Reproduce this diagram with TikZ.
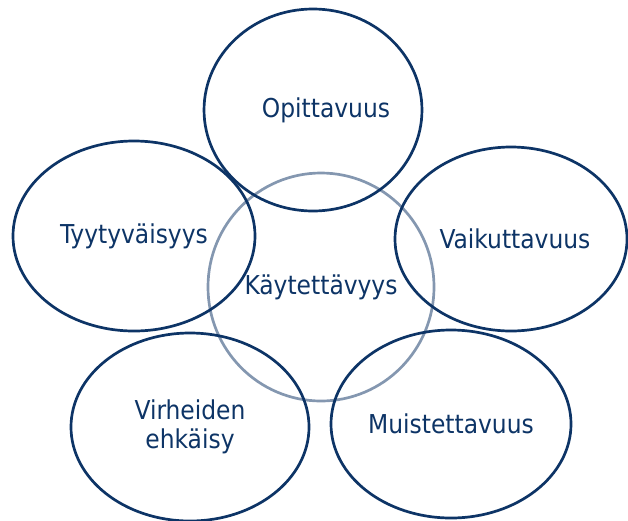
\documentclass[tikz,border=0pt]{standalone}
\usepackage{fontspec}
\setmainfont{DejaVu Sans Condensed}
\usetikzlibrary{shapes.geometric}
\definecolor{navy}{HTML}{0D3466}
\definecolor{greyblue}{HTML}{8497B0}
\tikzset{
    oval/.style = {ellipse, draw=navy, line width=2.7pt, inner sep=0pt, align=center,
        text=navy, font=\fontsize{26}{29}\selectfont},
    core/.style = {oval, draw=greyblue}
}

\begin{document}
\begin{tikzpicture}[x=1pt,y=-1pt]
    \useasboundingbox (0,0) rectangle (628,520);
    \node [core, minimum width=226pt, minimum height=228pt] (kaytettavyys) at (321,287) {Käytettävyys};
    \node [oval, minimum width=216pt, minimum height=202pt] (opittavuus) at (313,110) {\hspace*{26pt}Opittavuus};
    \node [oval, minimum width=232pt, minimum height=184pt] (vaikuttavuus) at (511,239) {\hspace*{8pt}Vaikuttavuus};
    \node [oval, minimum width=242pt, minimum height=190pt] (tyytyvaisyys) at (134,236) {Tyytyväisyys};
    \node [oval, minimum width=238pt, minimum height=188pt] (virheiden) at (190,427) {Virheiden\\ehkäisy};
    \node [oval, minimum width=240pt, minimum height=188pt] (muistettavuus) at (451,424) {Muistettavuus};
\end{tikzpicture}
\end{document}
